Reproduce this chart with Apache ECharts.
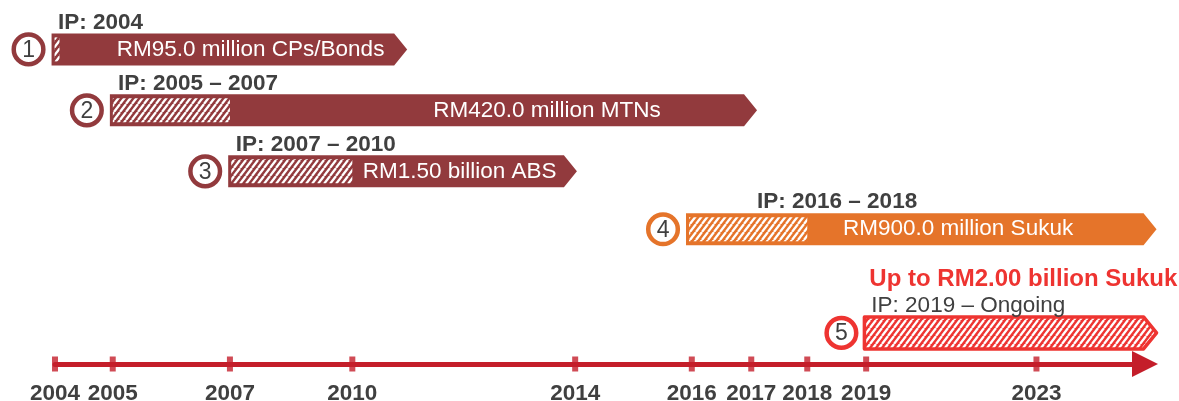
<!DOCTYPE html>
<html>
<head>
<meta charset="utf-8">
<script src="https://cdn.jsdelivr.net/npm/echarts@6/dist/echarts.min.js"></script>
<style>
  html, body { margin: 0; padding: 0; background: #fff; }
  #main { width: 1179px; height: 401px; }
</style>
</head>
<body>
<div id="main"></div>
<script>
// timeline ticks: year and where it sits on the (uneven) timeline
var years = [2004, 2005, 2007, 2010, 2014, 2016, 2017, 2018, 2019, 2023];
var yearPos = [0, 1, 3.03, 5.15, 9.01, 11.03, 12.06, 13.03, 14.05, 17];

// programmes
var ids = ["1", "2", "3", "4", "5"];
var amounts = ["RM95.0 million CPs/Bonds", "RM420.0 million MTNs", "RM1.50 billion ABS", "RM900.0 million Sukuk", ""];
var ipLabels = ["IP: 2004", "IP: 2005 – 2007", "IP: 2007 – 2010", "IP: 2016 – 2018", "IP: 2019 – Ongoing"];
var headline5 = "Up to RM2.00 billion Sukuk";
var ipFrom = [2004, 2005, 2007, 2016, 2019];
var ipTo = [2004, 2007, 2010, 2018, null]; // null = ongoing
var barFrom = [-0.06, 0.95, 3.0, 10.93, 14.02];
var barTo = [6.1, 12.16, 9.04, 19.08, 19.08];
var lanes = [1, 2, 3, 3.95, 5.65];

// label placement along the timeline
var amountAt = [1.07, 6.55, 5.33, 13.65, 0];
var ipAt = [0.05, 1.09, 3.13, 12.16, 14.14];

var maroon = "#923A3D";
var barColors = [maroon, maroon, maroon, "#E5742A", "#EE3431"];
var axisRed = "#C41E2A";
var textGray = "#404040";
var FONT = '"Liberation Sans", Arial, sans-serif';

function posOfYear(y) {
  return yearPos[years.indexOf(y)];
}

var hatchCache = {};
function hatch(color) {
  if (hatchCache[color]) return hatchCache[color];
  var c = document.createElement("canvas");
  c.width = 6;
  c.height = 8;
  var g = c.getContext("2d");
  g.fillStyle = color;
  g.fillRect(0, 0, 6, 8);
  g.strokeStyle = "#fff";
  g.lineWidth = 2.3;
  [-6, 0, 6].forEach(function (o) {
    g.beginPath();
    g.moveTo(o, 8);
    g.lineTo(o + 6, 0);
    g.stroke();
  });
  hatchCache[color] = { image: c, repeat: "repeat" };
  return hatchCache[color];
}

function renderProgramme(params, api) {
  var i = params.dataIndex;
  var yc = api.coord([0, api.value(2)])[1];
  var x0 = api.coord([api.value(0), 0])[0];
  var x1 = api.coord([api.value(1), 0])[0];
  var h = 32, head = 13;
  var color = barColors[i];
  var ongoing = ipTo[i] == null;
  var children = [];

  var pts = [[x0, yc - h / 2], [x1 - head, yc - h / 2], [x1, yc], [x1 - head, yc + h / 2], [x0, yc + h / 2]];
  children.push({
    type: "polygon",
    shape: { points: pts },
    style: ongoing
      ? { fill: hatch(color), stroke: color, lineWidth: 3.5, lineJoin: "round" }
      : { fill: color }
  });

  if (!ongoing) {
    var hx0 = x0 + 3;
    var hx1 = Math.max(api.coord([posOfYear(ipTo[i]), 0])[0], x0 + 8);
    children.push({
      type: "rect",
      shape: { x: hx0, y: yc - h / 2 + 4, width: hx1 - hx0, height: h - 8 },
      style: { fill: hatch(color) }
    });
  }

  // numbered circle
  var cx = x0 - 23;
  children.push({
    type: "circle",
    shape: { cx: cx, cy: yc, r: 14.8 },
    style: { fill: "#fff", stroke: color, lineWidth: 4.5 }
  });
  children.push({
    type: "text",
    style: {
      x: cx, y: yc + 1, text: ids[i], fill: textGray,
      font: "23px " + FONT,
      align: "center", verticalAlign: "middle",
      textAlign: "center", textVerticalAlign: "middle"
    }
  });

  if (amounts[i]) {
    children.push({
      type: "text",
      style: {
        x: api.coord([amountAt[i], 0])[0], y: yc, text: amounts[i], fill: "#fff",
        font: "22.5px " + FONT,
        align: "left", verticalAlign: "middle",
        textAlign: "left", textVerticalAlign: "middle"
      }
    });
  }

  children.push({
    type: "text",
    style: {
      x: api.coord([ipAt[i], 0])[0], y: yc - 27, text: ipLabels[i], fill: textGray,
      font: (ongoing ? "" : "bold ") + "22.5px " + FONT,
      align: "left", verticalAlign: "middle",
      textAlign: "left", textVerticalAlign: "middle"
    }
  });

  if (ongoing) {
    children.push({
      type: "text",
      style: {
        x: api.coord([ipAt[i], 0])[0] - 2, y: yc - 54, text: headline5, fill: color,
        font: "bold 24px " + FONT,
        align: "left", verticalAlign: "middle",
        textAlign: "left", textVerticalAlign: "middle"
      }
    });
  }

  return { type: "group", children: children };
}

var yMin = 0.19, yMax = 6.16;

var myChart = echarts.init(document.getElementById("main"));
myChart.setOption({
  animation: false,
  grid: { left: 55, right: 34, top: 0, bottom: 37, containLabel: false, outerBoundsMode: "none" },
  xAxis: {
    type: "value",
    min: 0,
    max: 18.88,
    splitLine: { show: false },
    axisLine: {
      show: true,
      onZero: false,
      symbol: ["none", "triangle"],
      symbolSize: [26, 26],
      lineStyle: { color: axisRed, width: 5 }
    },
    axisTick: { show: false },
    axisLabel: {
      customValues: yearPos,
      formatter: function (v) {
        var best = 0;
        for (var k = 1; k < yearPos.length; k++) {
          if (Math.abs(yearPos[k] - v) < Math.abs(yearPos[best] - v)) best = k;
        }
        return String(years[best]);
      },
      color: textGray,
      fontSize: 22.5,
      fontWeight: "bold",
      fontFamily: FONT,
      margin: 18
    }
  },
  yAxis: { type: "value", inverse: true, min: yMin, max: yMax, show: false },
  series: [
    {
      type: "scatter",
      silent: true,
      clip: false,
      symbol: "rect",
      symbolSize: [6, 15],
      itemStyle: { color: axisRed },
      data: yearPos.map(function (p) { return [p, yMax]; })
    },
    {
      type: "custom",
      renderItem: renderProgramme,
      encode: { x: [0, 1], y: 2 },
      data: lanes.map(function (l, i) { return [barFrom[i], barTo[i], l]; })
    }
  ]
});
</script>
</body>
</html>
